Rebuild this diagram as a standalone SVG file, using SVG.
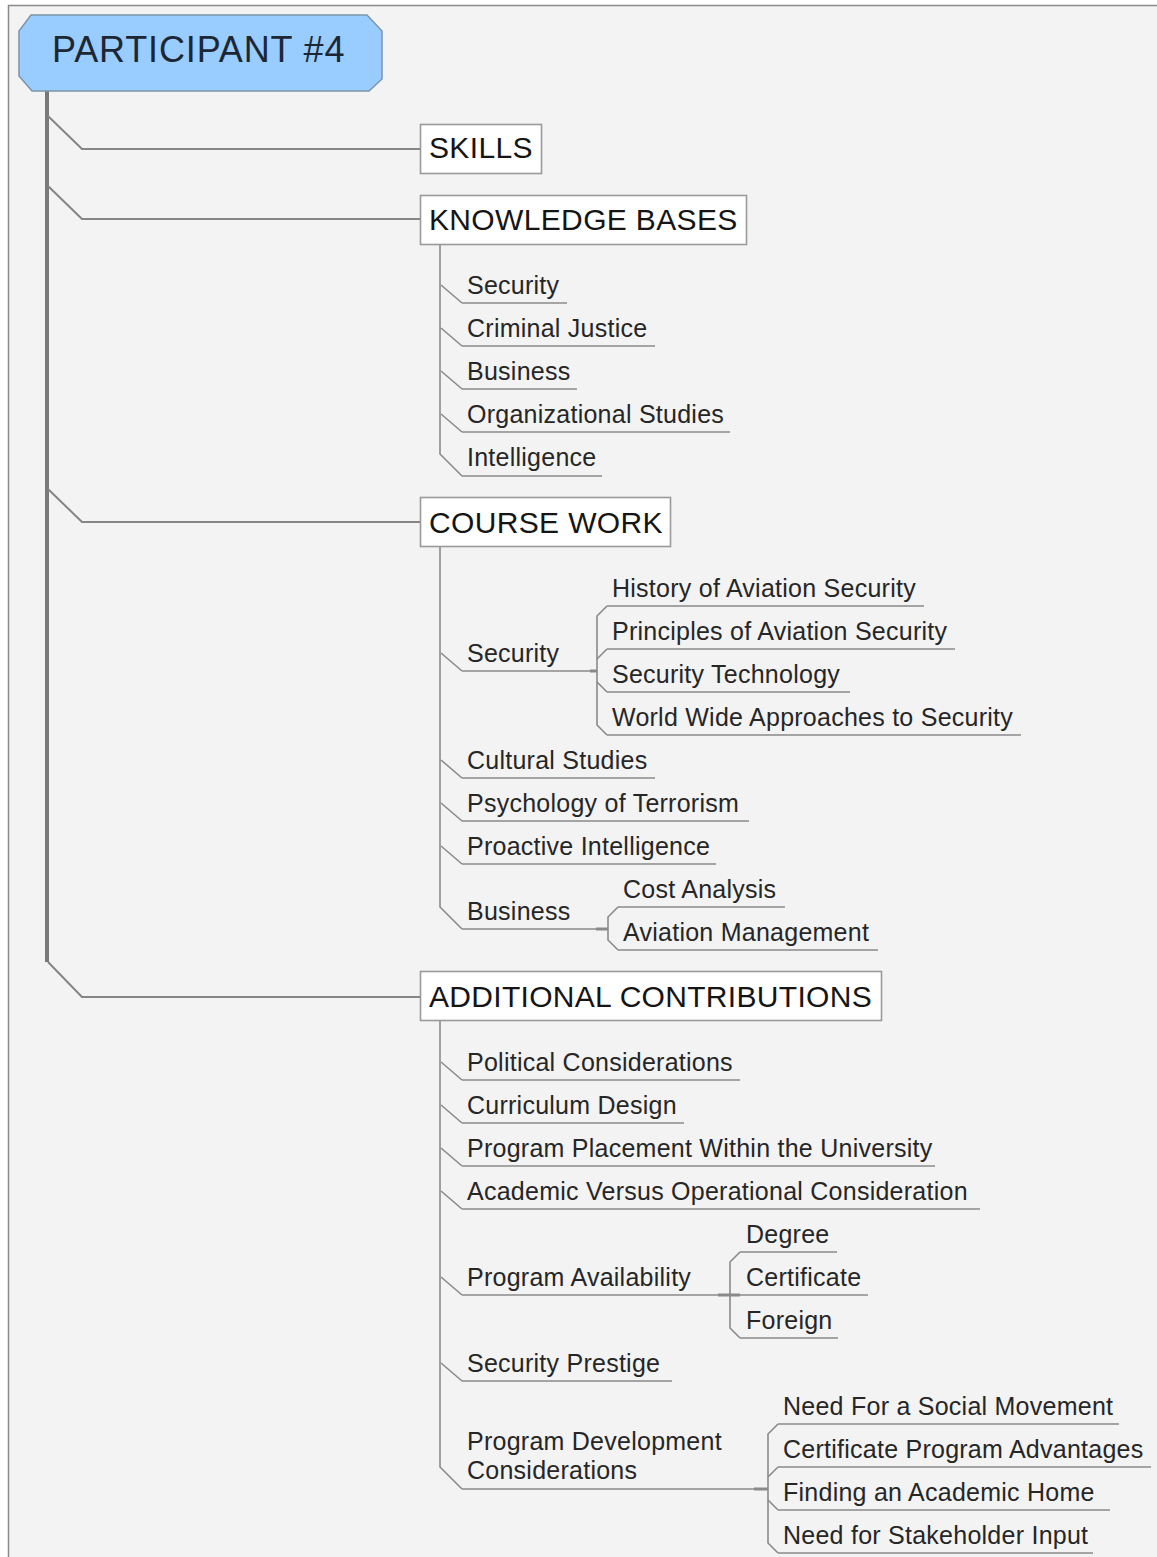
<svg xmlns="http://www.w3.org/2000/svg" width="1157" height="1557" viewBox="0 0 1157 1557">
  <style>
    .trunk { stroke: #787878; stroke-width: 4; fill: none; }
    .br { stroke: #858585; stroke-width: 2; fill: none; }
    .ln { stroke: #8a8a8a; stroke-width: 1.6; fill: none; }
    .stub { stroke: #8a8a8a; stroke-width: 3; fill: none; }
    .box { fill: #ffffff; stroke: #9a9a9a; stroke-width: 1.6; }
    .root { fill: #99ccff; stroke: #7d95ab; stroke-width: 1.5; }
    text { font-family: "Liberation Sans", Arial, sans-serif; fill: #262626; }
    .h0 { font-size: 36px; fill: #1c2733; letter-spacing: 0.85px; }
    .h1 { font-size: 30px; fill: #151515; letter-spacing: 0.35px; }
    .h2 { font-size: 25px; letter-spacing: 0.25px; }
  </style>

  <rect x="0" y="0" width="1157" height="1557" fill="#ffffff"/>
  <rect x="8.5" y="5.5" width="1160" height="1560" fill="#f3f3f3" stroke="#8a8a8a" stroke-width="1.5"/>

  <!-- connectors -->
  <g id="connectors">
    <!-- main trunk and first-level branches -->
    <path class="trunk" d="M47,91 V962"/>
    <path class="br" d="M48,116 L82,149 H420"/>
    <path class="br" d="M48,186 L82,219 H420"/>
    <path class="br" d="M48,489 L82,522 H420"/>
    <path class="br" d="M48,962 L82,997 H420"/>

    <!-- KNOWLEDGE BASES -->
    <path class="ln" d="M440,245 V454 L462,476"/>
    <path class="ln" d="M441,285 L462,303"/>
    <path class="ln" d="M441,328 L462,346"/>
    <path class="ln" d="M441,371 L462,389"/>
    <path class="ln" d="M441,414 L462,432"/>

    <!-- COURSE WORK -->
    <path class="ln" d="M440,546 V907 L462,929"/>
    <path class="ln" d="M441,653 L462,671"/>
    <path class="ln" d="M441,760 L462,778"/>
    <path class="ln" d="M441,803 L462,821"/>
    <path class="ln" d="M441,846 L462,864"/>
    <!-- Security sub-branch -->
    <path class="stub" d="M590,671 H597"/>
    <path class="ln" d="M607,606 L597,616 V725 L607,735"/>
    <path class="ln" d="M597,659 L607,649"/>
    <path class="ln" d="M597,682 L607,692"/>
    <!-- Business sub-branch -->
    <path class="stub" d="M596,929 H608"/>
    <path class="ln" d="M618,907 L608,917 V940 L618,950"/>

    <!-- ADDITIONAL CONTRIBUTIONS -->
    <path class="ln" d="M440,1021 V1467 L462,1489"/>
    <path class="ln" d="M441,1062 L462,1080"/>
    <path class="ln" d="M441,1105 L462,1123"/>
    <path class="ln" d="M441,1148 L462,1166"/>
    <path class="ln" d="M441,1191 L462,1209"/>
    <path class="ln" d="M441,1277 L462,1295"/>
    <path class="ln" d="M441,1363 L462,1381"/>
    <!-- Program Availability sub-branch -->
    <path class="stub" d="M718,1295 H740"/>
    <path class="ln" d="M740,1252 L730,1262 V1328 L740,1338"/>
    <!-- Program Development sub-branch -->
    <path class="stub" d="M754,1489 H768"/>
    <path class="ln" d="M778,1424 L768,1434 V1543 L778,1553"/>
    <path class="ln" d="M768,1477 L778,1467"/>
    <path class="ln" d="M768,1500 L778,1510"/>
  </g>

  <!-- root -->
  <g id="participant4">
    <polygon class="root" points="31,15 367,15 382,31 382,79 369,91 32,91 19,76 19,31"/>
    <text class="h0" x="52" y="62">PARTICIPANT #4</text>
  </g>

  <!-- first-level topics -->
  <g id="skills">
    <rect class="box" x="420.5" y="124.5" width="121" height="49"/>
    <text class="h1" x="429" y="158">SKILLS</text>
  </g>
  <g id="knowledge-bases">
    <rect class="box" x="420.5" y="195.5" width="326" height="49"/>
    <text class="h1" x="429" y="230">KNOWLEDGE BASES</text>
  </g>
  <g id="course-work">
    <rect class="box" x="420.5" y="497.5" width="250" height="49"/>
    <text class="h1" x="429" y="533">COURSE WORK</text>
  </g>
  <g id="additional-contributions">
    <rect class="box" x="420.5" y="971.5" width="461" height="49"/>
    <text class="h1" x="429" y="1007" textLength="443">ADDITIONAL CONTRIBUTIONS</text>
  </g>

  <!-- knowledge bases children -->
  <g id="kb-security"><path class="ln" d="M462,303 H567"/><text class="h2" x="467" y="294">Security</text></g>
  <g id="kb-criminal-justice"><path class="ln" d="M462,346 H655"/><text class="h2" x="467" y="337">Criminal Justice</text></g>
  <g id="kb-business"><path class="ln" d="M462,389 H577"/><text class="h2" x="467" y="380">Business</text></g>
  <g id="kb-organizational-studies"><path class="ln" d="M462,432 H730"/><text class="h2" x="467" y="423">Organizational Studies</text></g>
  <g id="kb-intelligence"><path class="ln" d="M462,476 H602"/><text class="h2" x="467" y="466">Intelligence</text></g>

  <!-- course work children -->
  <g id="cw-security"><path class="ln" d="M462,671 H592"/><text class="h2" x="467" y="662">Security</text></g>
  <g id="cw-history"><path class="ln" d="M607,606 H924"/><text class="h2" x="612" y="597">History of Aviation Security</text></g>
  <g id="cw-principles"><path class="ln" d="M607,649 H955"/><text class="h2" x="612" y="640">Principles of Aviation Security</text></g>
  <g id="cw-sec-tech"><path class="ln" d="M607,692 H850"/><text class="h2" x="612" y="683">Security Technology</text></g>
  <g id="cw-world-wide"><path class="ln" d="M607,735 H1021"/><text class="h2" x="612" y="726">World Wide Approaches to Security</text></g>
  <g id="cw-cultural"><path class="ln" d="M462,778 H655"/><text class="h2" x="467" y="769">Cultural Studies</text></g>
  <g id="cw-psychology"><path class="ln" d="M462,821 H749"/><text class="h2" x="467" y="812">Psychology of Terrorism</text></g>
  <g id="cw-proactive"><path class="ln" d="M462,864 H716"/><text class="h2" x="467" y="855">Proactive Intelligence</text></g>
  <g id="cw-business"><path class="ln" d="M462,929 H598"/><text class="h2" x="467" y="920">Business</text></g>
  <g id="cw-cost"><path class="ln" d="M618,907 H785"/><text class="h2" x="623" y="898">Cost Analysis</text></g>
  <g id="cw-aviation-mgmt"><path class="ln" d="M618,950 H878"/><text class="h2" x="623" y="941">Aviation Management</text></g>

  <!-- additional contributions children -->
  <g id="ac-political"><path class="ln" d="M462,1080 H740"/><text class="h2" x="467" y="1071">Political Considerations</text></g>
  <g id="ac-curriculum"><path class="ln" d="M462,1123 H684"/><text class="h2" x="467" y="1114">Curriculum Design</text></g>
  <g id="ac-placement"><path class="ln" d="M462,1166 H935"/><text class="h2" x="467" y="1157">Program Placement Within the University</text></g>
  <g id="ac-academic"><path class="ln" d="M462,1209 H980"/><text class="h2" x="467" y="1200">Academic Versus Operational Consideration</text></g>
  <g id="ac-availability"><path class="ln" d="M462,1295 H720"/><text class="h2" x="467" y="1286">Program Availability</text></g>
  <g id="ac-degree"><path class="ln" d="M740,1252 H837"/><text class="h2" x="746" y="1243">Degree</text></g>
  <g id="ac-certificate"><path class="ln" d="M730,1295 H868"/><text class="h2" x="746" y="1286">Certificate</text></g>
  <g id="ac-foreign"><path class="ln" d="M740,1338 H838"/><text class="h2" x="746" y="1329">Foreign</text></g>
  <g id="ac-prestige"><path class="ln" d="M462,1381 H672"/><text class="h2" x="467" y="1372">Security Prestige</text></g>
  <g id="ac-development">
    <path class="ln" d="M462,1489 H756"/>
    <text class="h2" x="467" y="1450">Program Development</text>
    <text class="h2" x="467" y="1479">Considerations</text>
  </g>
  <g id="ac-social"><path class="ln" d="M778,1424 H1119"/><text class="h2" x="783" y="1415">Need For a Social Movement</text></g>
  <g id="ac-cert-adv"><path class="ln" d="M778,1467 H1151"/><text class="h2" x="783" y="1458">Certificate Program Advantages</text></g>
  <g id="ac-home"><path class="ln" d="M778,1510 H1110"/><text class="h2" x="783" y="1501">Finding an Academic Home</text></g>
  <g id="ac-stakeholder"><path class="ln" d="M778,1553 H1093"/><text class="h2" x="783" y="1544">Need for Stakeholder Input</text></g>
</svg>
